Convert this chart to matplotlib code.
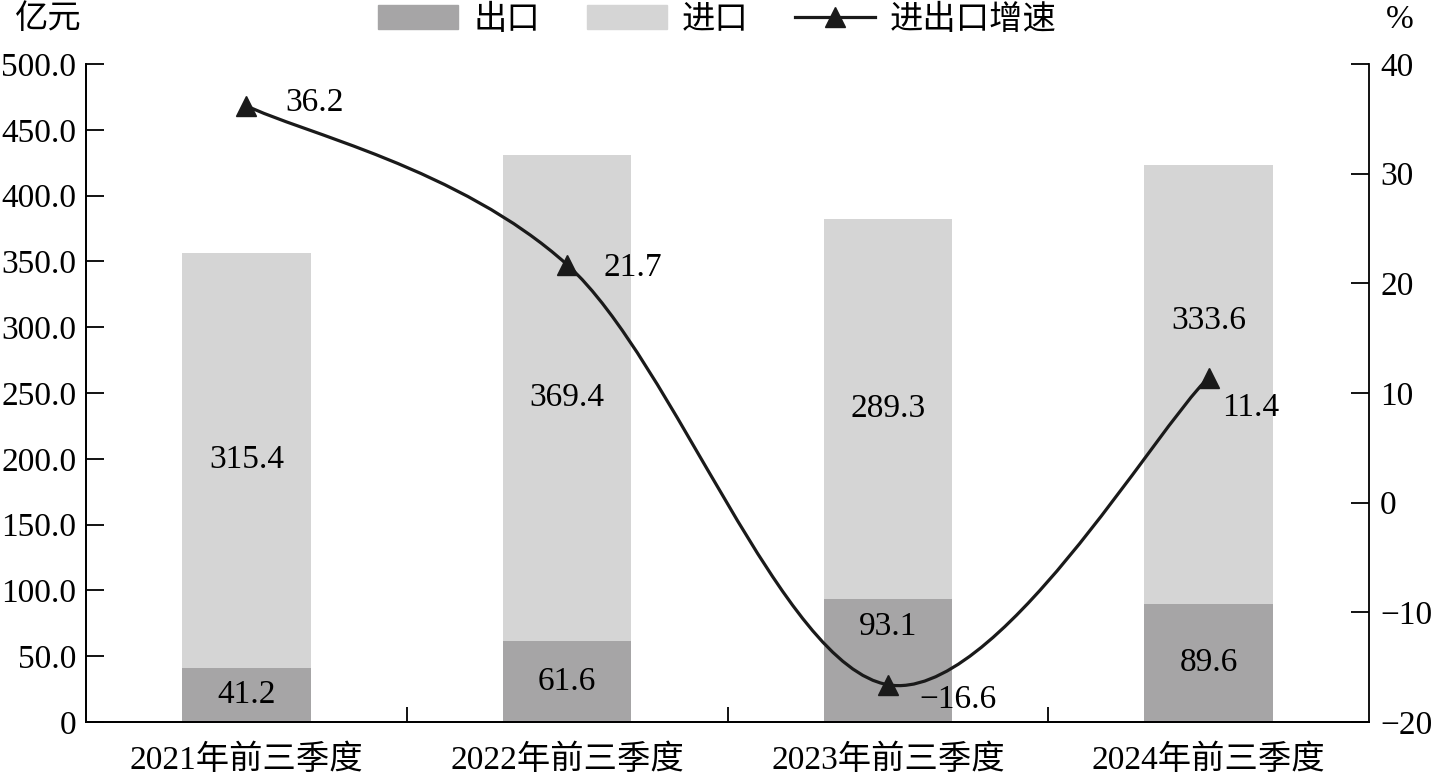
import numpy as np
import matplotlib
matplotlib.use("Agg")
from matplotlib import pyplot as plt
from matplotlib.path import Path
from matplotlib.patches import PathPatch, Patch
from matplotlib.lines import Line2D

plt.rcParams['font.family'] = ['Liberation Serif', 'Noto Sans CJK SC']
plt.rcParams['axes.unicode_minus'] = True

categories = ['2021年前三季度', '2022年前三季度', '2023年前三季度', '2024年前三季度']
exports = [41.2, 61.6, 93.1, 89.6]
imports = [315.4, 369.4, 289.3, 333.6]
growth = [36.2, 21.7, -16.6, 11.4]

export_color = '#a6a5a6'
import_color = '#d5d5d5'
line_color = '#1a1a1a'


def fmt(v):
    return f'{v:.1f}'.replace('-', '\u2212')


fig = plt.figure(figsize=(14.35, 7.79), dpi=100)
ax = fig.add_axes([86/1435, 1-722/779, (1369-86)/1435, (722-64)/779])
ax2 = ax.twinx()

x = np.arange(len(categories))
w = 0.4
ax.bar(x, exports, w, color=export_color, zorder=2)
ax.bar(x, imports, w, bottom=exports, color=import_color, zorder=2)

fs = 24
# bar labels (some shifted up to keep clear of the line)
exp_shift = [0, 0, 34, 0]
imp_shift = [0, 0, 0, 64]
for i in range(len(categories)):
    ax.annotate(fmt(exports[i]), (x[i], exports[i] / 2), xytext=(0, exp_shift[i]),
                textcoords='offset pixels', ha='center', va='center', fontsize=fs, zorder=3)
    ax.annotate(fmt(imports[i]), (x[i], exports[i] + imports[i] / 2), xytext=(0, imp_shift[i]),
                textcoords='offset pixels', ha='center', va='center', fontsize=fs, zorder=3)

ax.set_xlim(-0.5, 3.5)
ax.set_ylim(0, 500)
ax.set_yticks(np.arange(0, 501, 50))
ax.set_yticklabels(['0'] + [fmt(v) for v in np.arange(50, 501, 50)])
ax.set_xticks(x)
ax.set_xticklabels(categories)
ax.set_xticks([0.5, 1.5, 2.5], minor=True)
ax.tick_params(axis='x', which='major', length=0, labelsize=fs, pad=16)
ax.tick_params(axis='x', which='minor', direction='in', length=11, width=1.3)
ax.tick_params(axis='y', direction='in', length=13, width=1.3, labelsize=fs, pad=7)

ax2.set_ylim(-20, 40)
ax2.set_yticks(np.arange(-20, 41, 10))
ax2.set_yticklabels([fmt(v).replace('.0', '') for v in np.arange(-20, 41, 10)])
ax2.tick_params(axis='y', direction='in', length=13, width=1.3, labelsize=fs, pad=8)

for a in (ax, ax2):
    a.spines['top'].set_visible(False)
    for s in ('left', 'right', 'bottom'):
        a.spines[s].set_linewidth(1.3)
ax.spines['right'].set_visible(False)

# smoothed line (Catmull-Rom as cubic Bezier segments)
pts = np.column_stack([x, growth]).astype(float)
ext = np.vstack([pts[0], pts, pts[-1]])
verts = [tuple(pts[0])]
codes = [Path.MOVETO]
for i in range(len(pts) - 1):
    p0, p1, p2, p3 = ext[i], ext[i + 1], ext[i + 2], ext[i + 3]
    c1 = p1 + (p2 - p0) / 6
    c2 = p2 - (p3 - p1) / 6
    verts += [tuple(c1), tuple(c2), tuple(p2)]
    codes += [Path.CURVE4] * 3
ax2.add_patch(PathPatch(Path(verts, codes), fill=False, lw=2.3, edgecolor=line_color, zorder=4))
ax2.plot(x, growth, ls='none', marker='^', ms=14, color=line_color, zorder=5)

lbl_off = [(68, 3), (66, -3), (70, -15), (42, -30)]
for i, g in enumerate(growth):
    ax2.annotate(fmt(g), (x[i], g), xytext=lbl_off[i], textcoords='offset pixels',
                 ha='center', va='center', fontsize=fs, zorder=6)

handles = [Patch(color=export_color), Patch(color=import_color),
           Line2D([], [], color=line_color, lw=2.3, marker='^', ms=14)]
fig.legend(handles, ['出口', '进口', '进出口增速'], loc='center', bbox_to_anchor=(0.5, 1-20/779),
           ncol=3, frameon=False, fontsize=fs, handlelength=2.4, handleheight=0.72,
           columnspacing=1.4, handletextpad=0.45, borderpad=0)

fig.text(15/1435, 1-20/779, '亿元', fontsize=fs, ha='left', va='center')
fig.text(1400/1435, 1-20/779, '%', fontsize=fs, ha='center', va='center')

fig.savefig('out.png', dpi=100)
